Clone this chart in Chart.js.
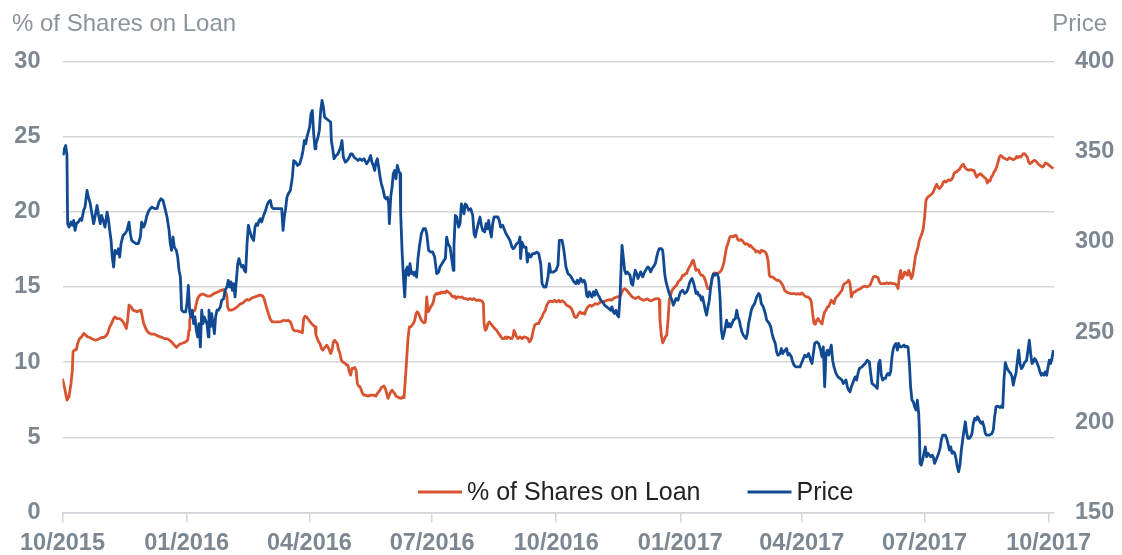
<!DOCTYPE html>
<html>
<head>
<meta charset="utf-8">
<script src="https://cdn.jsdelivr.net/npm/chart.js@4.4.0/dist/chart.umd.min.js"></script>
<style>
  html, body { margin: 0; padding: 0; background: #fff; }
  #wrap { width: 1122px; height: 555px; }
</style>
</head>
<body>
<div id="wrap"><canvas id="loanChart"></canvas></div>
<script>
// x values are days counted from 01/10/2015
const startDate = Date.UTC(2015, 9, 1);
const lastDay = 735;

const tickLabels = ['10/2015', '01/2016', '04/2016', '07/2016', '10/2016', '01/2017', '04/2017', '07/2017', '10/2017'];
const leftTitle = '% of Shares on Loan';
const rightTitle = 'Price';

// [day, % of shares on loan]
const loanPoints = [
  [0,8.9],[1.9,8.14],[3.3,7.48],[4.8,7.7],[6.3,8.58],[7.3,9.47],[7.8,10.69],[8.8,10.8],[10.3,10.84],[11.2,11.24],
  [12.7,11.57],[14.2,11.68],[15.7,11.91],[17.2,11.8],[18.7,11.68],[20.1,11.64],[21.6,11.57],[23.1,11.51],[24.6,11.46],
  [26.1,11.51],[27.5,11.57],[29.0,11.64],[30.5,11.64],[32.0,11.73],[33.5,11.91],[35.0,12.35],[36.4,12.57],[37.9,12.9],
  [38.9,13.01],[40.4,12.9],[41.9,12.9],[43.4,12.84],[44.9,12.68],[46.3,12.46],[47.3,12.24],[48.3,12.79],[49.3,13.79],
  [50.8,13.68],[52.3,13.46],[53.7,13.41],[55.2,13.35],[56.7,13.41],[58.2,13.46],[59.2,13.01],[60.2,12.57],[61.7,12.24],
  [63.1,12.02],[64.6,11.91],[66.1,11.86],[68.1,11.86],[69.6,11.8],[71.0,11.73],[72.5,11.68],[74.0,11.64],[75.5,11.57],
  [77.0,11.57],[78.5,11.51],[79.9,11.42],[81.4,11.29],[82.9,11.13],[84.4,10.98],[85.4,11.06],[86.9,11.2],[88.3,11.24],
  [89.8,11.29],[91.3,11.35],[92.8,11.46],[93.8,12.13],[94.3,12.79],[95.3,13.24],[96.7,13.35],[98.2,13.46],[99.2,13.9],
  [100.2,14.23],[101.7,14.45],[103.2,14.52],[104.6,14.52],[106.1,14.45],[107.6,14.39],[109.1,14.39],[110.6,14.45],
  [112.1,14.56],[113.5,14.61],[115.0,14.67],[116.5,14.74],[118.0,14.79],[119.5,14.83],[121.0,14.67],[121.9,14.34],
  [122.4,13.68],[123.4,13.46],[124.9,13.46],[126.4,13.5],[127.9,13.57],[129.4,13.68],[130.8,13.79],[132.3,13.9],
  [133.8,13.94],[135.3,14.08],[136.8,14.17],[138.3,14.12],[139.7,14.23],[141.2,14.3],[142.7,14.34],[144.2,14.39],
  [145.7,14.45],[147.2,14.45],[148.6,14.39],[149.6,14.17],[151.1,13.68],[152.6,13.24],[154.1,12.84],[155.5,12.68],
  [157.5,12.68],[159.5,12.68],[161.5,12.68],[163.0,12.75],[164.4,12.79],[165.9,12.75],[167.4,12.79],[168.9,12.68],
  [169.9,12.46],[170.9,12.17],[172.3,12.08],[174.3,12.08],[176.3,12.02],[177.8,11.95],[178.8,12.9],[179.8,13.06],
  [181.3,12.97],[182.7,12.79],[184.2,12.61],[185.7,12.46],[187.2,12.35],
  [187.9,11.8],[188.9,11.57],[189.9,11.35],[190.9,11.24],[191.9,10.91],[192.9,10.8],[193.9,10.91],[194.8,11.02],
  [195.8,11.13],[196.8,11.02],[197.8,10.8],[198.8,10.58],[199.8,10.8],[200.8,11.35],[201.8,11.46],[202.7,11.35],
  [203.7,11.24],[204.7,10.8],[205.7,10.58],[206.7,10.13],[207.7,10.02],[208.7,9.96],[209.7,9.91],[210.7,9.8],
  [211.6,9.8],[212.6,9.36],[213.6,9.14],[214.6,9.58],[215.6,9.58],[216.6,9.65],[217.6,9.47],[218.6,8.58],[219.5,8.41],
  [220.5,8.36],[221.5,8.14],[222.5,7.92],[223.5,7.81],[224.5,7.81],[226.5,7.74],[228.4,7.81],[230.4,7.81],[232.4,7.74],
  [233.4,7.92],[234.4,8.03],[235.4,8.14],[236.4,8.32],[237.3,8.36],[238.3,8.41],[239.3,8.25],[240.3,7.92],[241.3,7.59],
  [242.3,7.81],[243.3,8.03],[244.3,8.14],[245.2,8.03],[246.2,7.92],[247.2,7.74],[248.2,7.7],[249.2,7.65],[250.2,7.61],
  [251.2,7.59],[252.2,7.7],[253.2,7.65],[254.1,8.81],[255.1,10.13],[256.1,11.57],[257.1,12.35],[258.1,12.35],
  [259.1,12.46],[260.1,12.57],[261.1,12.79],[262.1,13.24],[263.0,13.35],[264.0,13.24],[265.0,13.01],[266.0,12.79],
  [267.0,12.68],[268.0,12.61],[269.0,12.68],[270.0,14.34],[270.9,13.35],[271.9,13.46],[272.9,13.68],[273.9,13.79],
  [274.9,14.01],[275.9,14.45],[276.9,14.56],[277.9,14.52],[278.9,14.61],[279.8,14.56],[280.8,14.67],[281.8,14.61],
  [282.8,14.67],[283.8,14.61],[284.8,14.74],[285.8,14.67],[286.8,14.61],[287.8,14.52],[288.7,14.39],[289.7,14.34],
  [290.7,14.39],[291.7,14.23],[292.7,14.34],[293.7,14.34],[294.7,14.3],
  [296.1,14.34],[297.6,14.23],[299.1,14.23],[300.6,14.16],[302.1,14.23],[303.6,14.16],[305.0,14.23],[306.5,14.12],
  [308.0,14.12],[309.5,14.12],[311.0,14.07],[312.0,13.9],[312.5,12.57],[313.4,12.12],[314.4,12.23],[315.4,12.57],
  [316.4,12.68],[317.4,12.57],[318.4,12.46],[319.4,12.34],[320.4,12.23],[321.8,12.12],[323.3,11.9],[324.3,11.79],
  [325.3,11.64],[326.3,11.57],[327.3,11.57],[328.3,11.68],[329.3,11.57],[330.3,11.68],[331.2,11.64],[332.2,11.57],
  [333.2,11.57],[334.2,11.79],[334.7,12.12],[335.7,11.9],[336.7,11.68],[337.7,11.57],[339.1,11.68],[340.6,11.57],
  [342.1,11.68],[343.6,11.64],[345.1,11.57],[346.1,11.35],[347.1,11.46],[348.0,11.68],[349.0,12.12],[350.0,12.46],
  [351.5,12.57],[353.0,12.57],[354.0,12.79],[355.5,13.01],[356.4,13.23],[357.9,13.45],[358.9,13.78],[360.4,14.01],
  [361.9,14.07],[363.4,14.01],[364.8,14.12],[366.3,14.01],[367.8,14.12],[368.8,14.01],
  [370.3,14.08],[371.8,14.01],[372.7,13.9],[373.7,13.79],[375.2,13.72],[376.7,13.63],[377.7,13.5],[378.7,13.23],
  [379.7,13.01],[380.6,12.97],[381.6,13.06],[382.6,13.23],[383.6,13.34],[385.1,13.23],[386.1,13.28],[387.1,13.19],
  [388.1,13.46],[389.1,13.63],[390.0,13.72],[391.0,13.79],[392.0,13.72],[393.5,13.79],[395.0,13.9],[396.5,13.85],
  [398.0,13.94],[399.4,14.01],[400.9,14.01],[402.4,14.08],[403.9,14.12],[405.4,14.16],[406.8,14.12],[408.3,14.23],
  [409.8,14.3],[410.8,14.34],[412.3,14.34],[413.8,14.45],[414.8,14.67],[415.7,14.83],[416.7,14.89],[417.7,14.83],
  [418.7,14.74],[419.7,14.61],[420.7,14.52],[421.7,14.39],[423.1,14.3],[424.6,14.23],[426.1,14.3],[427.1,14.34],
  [428.1,14.23],[429.6,14.16],[430.6,14.12],[432.0,14.16],[433.5,14.21],[435.0,14.12],[436.5,14.08],[438.0,14.16],
  [439.5,14.21],[440.5,14.23],[441.9,14.23],[442.4,14.12],[442.9,12.79],[443.9,11.79],[444.9,11.29],[445.9,11.46],
  [446.9,11.68],[447.9,11.79],[448.9,12.79],[449.8,14.12],[450.8,14.45],[451.8,14.78],[452.8,14.89],[453.8,15.01],
  [455.3,15.12],[456.3,15.34],[457.7,15.45],[458.7,15.56],[459.7,15.78],[460.7,15.78],[461.7,15.89],[462.7,15.89],
  [463.7,16.16],[464.7,16.33],[465.7,16.45],[466.6,16.67],[467.6,16.78],[468.6,16.45],[469.6,16.11],[470.6,16.16],
  [471.6,16.11],[472.6,15.89],[473.6,15.78],[474.5,15.78],[475.5,15.67],[476.5,15.45],[477.5,15.12],[478.5,14.89],
  [479.5,14.89],[480.5,15.01],[481.5,15.56],[482.5,15.89],[483.4,15.94],[484.9,15.89],[486.4,15.94],[487.4,16.0],
  [488.4,16.11],[489.4,16.33],[490.4,16.67],[491.4,17.22],[492.3,17.66],[493.3,17.88],[494.3,18.22],[495.3,18.37],
  [496.3,18.37],[497.3,18.33],[498.3,18.44],[499.3,18.44],[500.2,18.22],[501.2,18.11],[502.2,18.11],[503.2,18.15],
  [504.2,18.06],[505.2,17.93],[506.2,17.84],[507.2,17.88],[508.2,17.84],[509.1,17.71],[510.1,17.77],[511.1,17.66],
  [512.1,17.55],[513.1,17.49],[514.1,17.33],[515.1,17.4],[516.1,17.33],[517.0,17.26],
  [518.0,17.44],[519.5,17.39],[521.0,17.33],[522.0,17.17],[523.0,16.77],[524.0,15.78],[525.0,15.67],[526.4,15.67],
  [527.9,15.56],[529.4,15.45],[530.9,15.45],[532.4,15.33],[533.9,15.11],[535.3,14.78],[536.8,14.67],[538.3,14.6],
  [539.8,14.56],[541.3,14.56],[542.8,14.56],[544.2,14.52],[545.7,14.56],[546.7,14.52],
  [548.2,14.61],[549.7,14.45],[551.2,14.34],[552.6,14.34],[554.1,14.23],[555.1,14.01],[556.1,13.23],[557.1,12.57],
  [558.1,12.53],[559.1,12.79],[560.1,12.9],[561.0,12.75],[562.0,12.68],[563.0,12.53],[564.0,13.01],[565.0,13.35],
  [566.0,13.46],[567.0,13.68],[567.9,13.68],[568.9,13.9],[569.9,14.12],[570.9,14.01],[571.9,13.9],[572.9,14.23],
  [573.9,14.34],[574.9,14.45],[575.9,14.56],[576.8,14.67],[577.8,14.78],[578.8,15.12],[579.8,15.23],[580.8,15.27],
  [581.8,15.34],[582.8,15.45],[583.8,15.23],[584.8,14.34],[585.7,14.56],[586.7,14.67],[587.7,14.67],[588.7,14.78],
  [590.2,14.83],[591.7,14.9],[593.2,15.01],[594.6,15.05],[596.1,15.01],[597.6,15.05],[598.6,15.12],[600.1,15.45],
  [601.1,15.67],[602.1,15.71],[603.5,15.67],[604.5,15.63],[605.5,15.34],[606.5,15.23],[608.0,15.23],[609.5,15.23],
  [611.0,15.27],[612.4,15.23],[613.9,15.27],[615.4,15.23],[616.9,15.23],[618.4,15.12],[619.4,14.9],[620.3,15.67],
  [621.3,16.11],[622.3,15.56],[623.3,15.71],[624.3,16.0],[625.3,15.89],[626.3,15.78],[627.3,16.11],[628.2,15.89],
  [629.2,15.56],[630.2,15.78],[631.2,16.33],[632.2,17.0],[633.2,17.33],[634.2,17.66],[635.2,18.11],[636.1,18.33],
  [637.1,18.55],[638.1,18.88],[639.1,19.66],[640.1,20.76],[641.1,20.94],[642.1,21.03],[643.1,21.1],[644.1,21.16],
  [645.0,21.25],[646.0,21.43],[647.0,21.65],[648.0,21.83],[649.0,21.65],[650.0,21.54],[651.0,21.65],[652.0,21.76],
  [653.0,21.98],[653.9,22.05],[654.9,21.98],[655.9,22.05],[656.9,22.14],[657.9,22.09],[658.9,22.14],[659.9,22.27],
  [660.9,22.54],[661.8,22.65],[662.8,22.65],[663.8,22.76],[664.8,22.8],[665.8,22.98],[666.8,23.09],[667.8,23.16],
  [668.8,22.98],[669.8,22.87],[670.7,22.8],[671.7,22.76],[672.7,22.8],[673.7,22.8],[674.7,22.76],[675.7,22.76],
  [676.7,22.49],[677.7,22.31],[678.7,22.43],[679.6,22.49],[680.6,22.54],[681.6,22.43],[682.6,22.36],[683.6,22.27],
  [684.6,22.2],[685.6,21.92],[686.6,22.09],[687.6,22.05],[688.5,22.31],[689.5,22.43],[690.5,22.65],[691.5,22.76],
  [692.5,22.98],[693.5,23.31],[694.5,23.64],[695.5,23.75],[696.4,23.69],[697.4,23.6],[698.9,23.53],[700.4,23.47],
  [701.9,23.6],[703.4,23.53],[704.8,23.47],[706.3,23.53],[707.3,23.69],[708.3,23.6],[709.3,23.69],[710.3,23.64],
  [711.3,23.75],[712.3,23.87],[713.2,23.87],[714.2,23.75],[715.2,23.64],[716.2,23.31],[717.2,23.2],[718.7,23.31],
  [720.2,23.42],[721.6,23.38],[723.1,23.2],[724.6,23.09],[726.1,22.98],[727.1,23.02],[728.6,23.25],[730.1,23.2],
  [731.5,23.09],[733.0,22.98],[734.5,22.87]
];

// [day, share price]
const pricePoints = [
  [0.5,348],[1.4,351.6],[2.4,353.4],[3.3,347.9],[3.8,310.1],[4.8,308.2],[6.3,311.0],[7.3,309.2],[8.3,311.9],[9.3,306.4],
  [10.3,310.1],[11.7,311.0],[13.2,312.8],[14.2,311.9],[15.7,317.5],[16.7,319.3],[18.2,328.5],[19.2,324.8],[20.6,321.2],
  [21.6,316.5],[23.1,310.1],[24.1,313.8],[25.6,320.2],[26.6,315.6],[28.0,310.1],[29.0,314.7],[30.5,311.0],[31.5,308.2],
  [33.0,316.5],[34.0,312.8],[35.0,306.4],[36.0,300.8],[36.9,291.6],[37.9,286.1],[38.9,295.3],[40.4,293.5],[41.4,296.2],
  [42.4,291.6],[43.4,299.0],[44.9,303.6],[46.3,304.5],[47.8,306.4],[49.3,311.0],[50.3,304.5],[51.3,300.8],[52.8,299.9],
  [54.7,299.0],[56.2,299.0],[57.7,302.7],[58.7,311.0],[60.2,308.2],[61.2,310.1],[62.6,314.7],[64.1,317.5],[66.1,319.3],
  [68.6,318.4],[70.1,318.4],[71.5,322.1],[73.0,323.9],[74.5,323.0],[76.0,318.4],[77.5,313.8],[79.0,306.4],[79.9,299.0],
  [80.9,295.3],[81.9,302.7],[82.9,297.1],[84.4,295.3],[85.4,291.6],[86.4,284.2],[87.4,280.5],[88.3,262.1],[89.8,261.2],
  [91.3,261.2],[92.3,265.8],[93.3,275.9],[94.3,261.2],[95.3,258.4],[96.2,262.1],[97.2,254.7],[98.2,258.4],[99.2,251.0],
  [100.2,247.3],[101.2,254.7],[102.2,241.8],[103.2,262.1],[104.2,254.7],[105.1,258.4],[106.1,256.5],[107.1,254.7],
  [108.1,247.3],[108.6,262.1],[109.6,252.9],[110.6,260.2],[111.6,254.7],[112.6,249.2],[113.5,258.4],[114.5,262.1],
  [115.5,262.1],[117.0,263.9],[118.0,267.6],[119.5,268.5],[120.5,273.2],[121.9,275.0],[122.9,278.7],[123.9,275.0],
  [124.9,277.8],[125.9,273.2],[126.9,276.9],[127.9,269.5],[128.9,278.7],[129.9,287.9],[130.8,290.7],[131.8,287.9],
  [132.8,286.1],[133.8,287.0],[134.8,284.2],[135.8,283.3],[136.8,299.0],[137.8,309.2],[138.7,306.4],[140.2,302.7],
  [141.7,300.8],[142.7,308.2],[143.7,310.1],[144.7,309.2],[145.7,311.9],[146.7,312.8],[147.6,311.0],[149.1,314.7],
  [150.6,317.5],[151.6,320.2],[152.6,322.1],[154.1,323.0],[155.1,319.3],[156.5,318.4],[158.5,318.4],[160.5,318.4],
  [162.5,318.4],[163.5,306.4],[164.4,313.8],[165.4,318.4],[166.4,324.8],[167.4,326.7],[168.9,328.5],[170.4,335.9],
  [171.4,345.1],[172.8,344.2],[174.3,342.4],[175.8,343.3],[177.3,347.0],[178.3,350.7],[179.3,356.2],[180.3,354.4],
  [181.2,358.1],[182.2,360.8],[183.2,363.6],[184.2,371.0],[185.2,372.8],[186.2,359.9],[187.2,351.6],
  [187.9,354.4],[189.4,358.1],[190.4,361.8],[191.4,372.8],[192.4,378.4],[193.4,374.7],[194.3,369.1],[195.8,368.2],
  [197.3,367.3],[198.8,366.4],[199.3,356.2],[200.3,351.6],[201.3,346.1],[202.8,347.9],[204.2,348.8],[205.2,350.7],
  [206.2,352.5],[207.2,356.2],[208.2,347.0],[209.7,344.2],[211.1,345.1],[212.6,347.0],[213.6,348.8],[214.6,348.8],
  [216.1,347.0],[217.6,346.1],[219.1,345.1],[220.5,346.1],[222.0,345.1],[223.5,346.1],[225.5,343.3],[227.0,345.1],
  [228.4,347.9],[229.4,344.2],[230.4,342.4],[231.4,339.6],[232.4,344.2],[233.4,346.1],[234.4,341.4],[235.4,335.9],
  [236.4,332.2],[237.8,328.5],[238.8,324.8],[239.8,323.9],[240.8,324.8],[241.8,321.1],[242.3,310.1],[243.3,324.8],
  [244.3,330.4],[245.2,337.8],[246.2,339.6],[247.2,335.0],[248.2,342.4],[249.2,339.6],[250.2,337.8],[250.7,315.6],
  [251.7,295.3],[252.7,280.5],[253.7,269.5],[254.6,284.2],[255.6,286.1],[256.6,281.5],[257.6,287.9],[258.6,282.4],
  [259.6,283.3],[260.6,281.5],[261.6,283.3],[262.5,280.5],[263.5,290.7],[264.5,297.1],[266.0,304.5],[267.5,307.3],
  [269.0,307.3],[270.0,304.5],[271.4,295.3],[272.9,294.4],[274.4,294.4],[275.9,291.6],[277.4,282.4],[278.9,283.3],
  [279.8,286.1],[281.3,287.9],[282.8,289.8],[283.8,290.7],[284.8,302.7],[285.8,299.0],[287.3,297.1],[288.7,289.8],
  [289.7,284.2],[290.2,298.1],[291.2,314.7],[292.2,313.8],[293.7,308.2],[294.7,310.1],[295.7,321.1],[296.6,319.3],
  [297.6,315.6],[298.6,321.1],[299.6,320.2],[301.1,317.5],[302.6,318.4],[304.1,314.7],[305.1,304.5],[306.0,302.7],
  [307.0,306.4],[308.5,311.0],[309.5,313.8],[310.5,309.2],[311.5,306.4],[313.0,305.5],[314.0,310.1],[314.9,307.3],
  [315.9,311.9],[316.9,306.4],[317.9,302.7],[318.9,310.1],[319.9,313.8],[321.4,313.8],[322.8,313.8],[323.8,311.9],
  [324.8,308.2],[326.3,309.2],[327.3,307.3],[328.8,304.5],[330.3,302.7],[331.7,300.8],[333.2,297.1],[334.2,296.2],
  [335.2,297.1],[336.7,299.0],[338.2,299.9],[339.1,302.7],[339.6,290.7],[340.6,299.9],[342.1,297.1],[343.6,297.1],
  [344.6,288.8],[345.6,293.5],[347.1,291.6],[348.5,293.5],[350.0,293.5],[351.5,294.4],[353.0,293.5],[354.5,287.9],
  [355.5,276.9],[356.9,275.0],[358.4,275.0],[359.9,280.5],[360.9,287.9],[361.9,283.3],[363.9,283.3],[365.8,284.2],
  [367.3,287.0],[368.3,300.8],
  [370.3,300.9],[371.3,297.2],[372.3,291.7],[373.2,286.1],[374.7,282.4],[376.2,281.5],[377.7,279.7],[379.2,277.8],
  [380.6,276.9],[381.6,278.7],[382.6,276.9],[384.1,279.7],[385.6,277.8],[386.6,278.7],[387.6,276.9],[388.6,270.4],
  [389.5,269.5],[390.5,272.3],[391.5,270.4],[392.5,269.5],[393.5,272.3],[394.5,270.4],[395.5,273.2],[397.0,270.4],
  [398.0,269.5],[398.9,267.7],[400.4,266.7],[401.9,264.9],[403.4,264.0],[404.9,263.1],[406.3,262.1],[407.3,264.0],
  [408.3,261.2],[409.3,260.3],[410.3,262.1],[411.3,259.4],[412.3,258.4],[413.3,269.5],[414.3,289.8],[414.8,298.1],
  [415.7,291.7],[416.7,284.3],[417.7,282.4],[418.7,283.3],[419.7,282.4],[420.7,281.5],[421.7,276.9],[422.7,276.0],
  [423.6,280.6],[424.6,284.3],[425.6,282.4],[426.6,279.7],[427.6,281.5],[428.6,283.4],[430.1,280.6],[431.6,283.4],
  [433.0,285.2],[434.0,286.1],[435.0,285.2],[436.0,283.4],[437.0,285.2],[438.0,286.1],[439.5,288.0],[440.5,291.7],
  [441.4,294.4],[442.4,296.3],[443.9,296.3],[444.9,295.3],[445.4,291.7],[446.4,282.4],[447.4,277.8],[448.4,275.0],
  [449.8,271.4],[450.8,269.5],[451.8,267.7],[452.8,264.9],[453.8,266.7],[454.8,268.6],[456.3,267.7],[457.3,270.4],
  [458.2,272.3],[459.7,273.2],[461.2,271.4],[462.7,272.3],[463.7,274.1],[464.7,276.9],[465.7,278.7],[466.6,279.7],
  [467.6,277.8],[468.6,275.0],[469.6,271.4],[470.6,272.3],[471.6,270.4],[472.6,270.4],[473.6,267.7],[474.5,269.5],
  [475.5,265.8],[476.5,262.1],[477.5,259.4],[478.5,264.0],[479.5,267.7],[480.5,275.0],[481.5,279.7],[482.5,282.1],
  [483.4,281.5],[484.4,282.4],[485.4,282.1],[486.4,279.7],[487.4,269.5],[488.4,251.1],[489.4,246.4],[490.4,249.2],
  [491.4,252.9],[492.3,256.6],[493.3,252.9],[494.3,254.7],[495.3,252.9],[496.3,254.7],[497.3,256.6],[498.8,257.5],
  [499.8,262.1],[500.7,258.4],[501.7,256.6],[502.7,252.9],[503.7,250.1],[504.7,248.3],[505.7,247.4],[506.7,246.4],
  [507.7,249.2],[508.6,254.7],[509.6,258.4],[510.6,262.1],[511.6,264.0],[513.1,265.8],[514.6,269.5],[516.1,271.4],
  [517.0,270.4],
  [518.0,265.8],[519.5,264.0],[521.0,260.3],[522.0,256.6],[523.0,255.7],[524.0,254.7],[525.0,252.9],[526.0,249.2],
  [527.0,246.4],[528.4,243.7],[529.4,239.0],[530.4,237.2],[531.9,238.1],[532.9,240.9],[533.9,238.1],[534.8,239.1],
  [535.8,240.0],[536.8,240.9],[537.8,237.2],[538.8,238.1],[540.3,236.3],[541.3,233.5],[542.3,231.7],[543.7,230.7],
  [545.2,230.7],[546.7,230.7],
  [548.7,234.4],[550.2,237.2],[551.6,236.3],[553.1,238.1],[554.6,234.4],[555.6,232.6],[556.6,238.1],[557.6,243.7],
  [559.1,244.6],[560.5,243.7],[562.0,240.0],[563.0,236.3],[564.0,241.8],[565.0,219.7],[566.0,238.1],[567.0,240.0],
  [568.0,237.2],[569.0,240.0],[569.9,242.8],[570.9,234.4],[571.9,230.7],[573.4,227.1],[574.9,225.2],[576.4,224.3],
  [577.8,223.4],[578.8,221.5],[579.8,222.4],[580.8,223.4],[581.8,219.7],[582.8,217.8],[583.8,216.9],[584.8,219.7],
  [585.7,221.5],[586.7,223.4],[587.7,225.2],[588.7,223.4],[589.7,227.1],[590.7,229.8],
  [592.7,230.7],[593.7,231.7],[595.1,232.6],[596.6,234.4],[598.1,233.5],[599.1,227.1],[600.1,221.5],[601.6,220.6],
  [603.0,219.7],[604.0,218.8],[605.0,232.6],[606.0,234.4],[607.0,226.1],[608.0,223.4],[609.0,224.3],[610.0,224.3],
  [610.9,226.1],[611.9,227.1],[612.9,226.1],[613.9,228.0],[614.9,236.3],[615.9,240.9],[616.9,242.8],[617.9,243.7],
  [618.9,240.0],[619.8,243.7],[620.8,241.8],[621.8,241.8],[622.8,242.2],[623.8,242.8],[624.8,241.8],[625.8,242.2],
  [626.8,241.8],[627.8,232.6],[628.7,219.7],[629.7,212.3],[630.7,211.4],[631.7,208.6],[632.7,206.8],[633.7,212.3],
  [634.7,204.9],[635.2,195.7],[635.7,177.2],[636.6,176.3],[637.6,179.1],[638.6,182.8],[639.6,186.4],[640.6,180.9],
  [641.6,182.8],[642.6,181.8],[643.6,180.9],[644.6,181.8],[645.5,180.9],[646.5,177.2],[647.5,179.1],[648.5,180.9],
  [649.5,182.8],[650.5,185.5],[651.5,190.2],[652.5,192.9],[653.5,192.9],[654.4,192.9],[655.4,191.1],[656.4,188.3],
  [657.4,184.6],[658.4,186.4],[659.4,182.8],[660.4,183.7],[661.4,182.8],[662.3,180.0],[663.3,175.4],[664.3,172.6],
  [665.3,176.3],[666.3,184.6],[667.3,190.2],[668.3,195.7],[669.3,200.3],[670.3,193.8],[671.2,191.1],[672.2,191.1],
  [673.2,192.0],[674.2,193.8],[675.2,199.4],[676.2,202.2],[677.2,201.2],[678.2,203.1],[679.1,202.2],[680.1,200.3],
  [681.1,199.4],[682.1,200.3],[683.1,197.5],[684.1,193.8],[685.1,192.9],[687.1,192.9],[689.0,193.8],[690.0,195.7],
  [691.0,203.1],[692.0,208.6],[693.0,209.0],[695.0,208.2],[696.0,209.0],[697.0,208.2],[697.9,223.4],[698.9,233.0],
  [699.9,230.8],[700.9,228.9],[701.9,228.0],[702.9,227.1],[703.9,225.2],[704.8,220.6],[705.8,224.3],[706.8,227.1],
  [707.8,233.5],[708.8,240.0],[709.8,232.6],[710.8,229.8],[711.8,230.7],[712.8,232.6],[713.7,233.5],[714.7,234.4],
  [715.7,240.0],[716.7,245.5],[717.7,238.1],[718.7,232.6],[719.7,233.5],[720.7,235.4],[721.6,234.4],[722.6,232.6],
  [723.6,230.7],[724.6,228.0],[725.6,226.1],[726.6,227.1],[727.6,226.1],[728.6,228.0],[729.6,226.1],[730.6,230.7],
  [731.5,234.4],[732.5,232.6],[733.5,235.4],[734.5,240.0]
];

function dayOf(label) {
  const [m, y] = label.split('/').map(Number);
  return (Date.UTC(y, m - 1, 1) - startDate) / 86400000;
}
const tickDays = tickLabels.map(dayOf);

const tickFont = { family: '"Liberation Sans", Arial, sans-serif', size: 23.5, weight: 'bold' };
const tickColor = '#7d8791';
const gridColor = '#d2d6da';

const headerAndLegend = {
  id: 'headerAndLegend',
  afterDraw(chart) {
    const ctx = chart.ctx;
    ctx.save();
    ctx.font = '24px "Liberation Sans", Arial, sans-serif';
    ctx.textBaseline = 'middle';
    ctx.fillStyle = '#8a949e';
    ctx.textAlign = 'left';
    ctx.fillText(leftTitle, 12, 24);
    ctx.textAlign = 'right';
    ctx.fillText(rightTitle, 1107, 24);

    // legend sits inside the plot, near the bottom
    ctx.font = '25px "Liberation Sans", Arial, sans-serif';
    let x = 418;
    const y = 492;
    ctx.textAlign = 'left';
    chart.data.datasets.forEach(ds => {
      ctx.strokeStyle = ds.borderColor;
      ctx.lineWidth = 3;
      ctx.beginPath();
      ctx.moveTo(x, y);
      ctx.lineTo(x + 44, y);
      ctx.stroke();
      ctx.fillStyle = '#222222';
      ctx.fillText(ds.label, x + 49, y + 1);
      x += 49 + ctx.measureText(ds.label).width + 47;
    });
    ctx.restore();
  }
};

const data = {
  datasets: [{
    label: leftTitle,
    data: loanPoints.map(p => ({ x: p[0], y: p[1] })),
    borderColor: '#d8532f',
    borderWidth: 2.8,
    yAxisID: 'y',
    order: 1
  }, {
    label: rightTitle,
    data: pricePoints.map(p => ({ x: p[0], y: p[1] })),
    borderColor: '#114a93',
    borderWidth: 2.8,
    yAxisID: 'y1',
    order: 0
  }]
};

const config = {
  type: 'line',
  data: data,
  plugins: [headerAndLegend],
  options: {
    responsive: true,
    maintainAspectRatio: false,
    animation: false,
    layout: { padding: { top: 61.5, bottom: 0, left: 0, right: 0 } },
    elements: {
      point: { radius: 0 },
      line: { tension: 0, borderJoinStyle: 'round' }
    },
    plugins: {
      legend: { display: false },
      tooltip: { enabled: false }
    },
    scales: {
      x: {
        type: 'linear',
        min: 0,
        max: lastDay,
        afterBuildTicks: scale => { scale.ticks = tickDays.map(v => ({ value: v })); },
        afterFit: scale => { scale.height = 42.5; },
        grid: { drawOnChartArea: false, drawTicks: true, tickLength: 10, color: gridColor, lineWidth: 1.5 },
        border: { display: true, color: gridColor, width: 1.5 },
        ticks: {
          autoSkip: false,
          maxRotation: 0,
          padding: 7,
          color: tickColor,
          font: tickFont,
          callback: v => tickLabels[tickDays.indexOf(v)]
        }
      },
      y: {
        position: 'left',
        min: 0,
        max: 30,
        afterFit: scale => { scale.width = 62.5; },
        grid: { color: gridColor, lineWidth: 1.5, drawTicks: false },
        border: { display: false },
        ticks: { stepSize: 5, padding: 22, color: tickColor, font: tickFont }
      },
      y1: {
        position: 'right',
        min: 150,
        max: 400,
        afterFit: scale => { scale.width = 68; },
        grid: { drawOnChartArea: false, drawTicks: false },
        border: { display: false },
        ticks: { stepSize: 50, padding: 21, color: tickColor, font: tickFont }
      }
    }
  }
};

new Chart(document.getElementById('loanChart'), config);
</script>
</body>
</html>
